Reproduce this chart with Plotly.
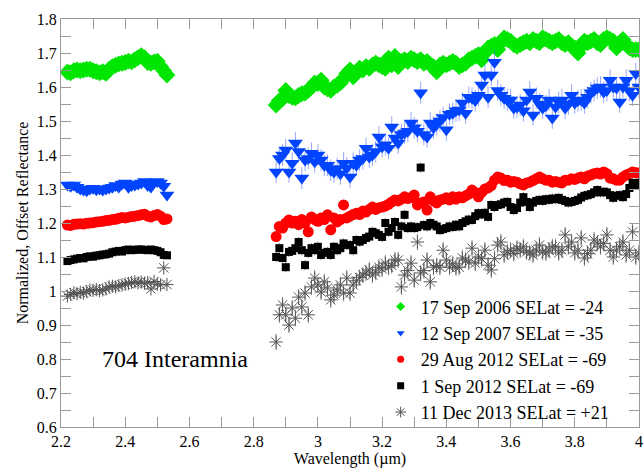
import plotly.graph_objects as go

# Wavelength grids (micron) for the two spectral segments
wl_left = [round(2.22 + 0.01 * i, 2) for i in range(32)]
wl_right = [round(2.87 + 0.01 * i, 2) for i in range(114)]

x_ticks = [2.2, 2.4, 2.6, 2.8, 3.0, 3.2, 3.4, 3.6, 3.8, 4.0]
x_ticklabels = ["2.2", "2.4", "2.6", "2.8", "3", "3.2", "3.4", "3.6", "3.8", "4"]

labels = ["17 Sep 2006 SELat = -24", "12 Sep 2007 SELat = -35",
          "29 Aug 2012 SELat = -69", "1 Sep 2012 SELat = -69",
          "11 Dec 2013 SELat = +21"]

green_left = [1.644, 1.642, 1.648, 1.65, 1.648, 1.65, 1.652, 1.652, 1.648, 1.645,
              1.642, 1.645, 1.64, 1.652, 1.66, 1.664, 1.668, 1.67, 1.672, 1.676,
              1.674, 1.68, 1.686, 1.692, 1.686, 1.672, 1.67, 1.674, 1.676, 1.66,
              1.648, 1.635]
green_right = [1.547, 1.56, 1.565, 1.59, 1.575, 1.57, 1.568, 1.575, 1.58, 1.582,
               1.59, 1.60, 1.612, 1.61, 1.62, 1.60, 1.595, 1.59, 1.60, 1.605,
               1.612, 1.625, 1.64, 1.65, 1.63, 1.645, 1.655, 1.65, 1.66, 1.655,
               1.665, 1.67, 1.665, 1.66, 1.655, 1.685, 1.665, 1.69, 1.66, 1.675,
               1.68, 1.675, 1.685, 1.68, 1.675, 1.68, 1.67, 1.675, 1.665, 1.66,
               1.645, 1.665, 1.67, 1.665, 1.67, 1.675, 1.67, 1.66, 1.665, 1.67,
               1.68, 1.685, 1.69, 1.695, 1.68, 1.70, 1.715, 1.72, 1.725, 1.71,
               1.73, 1.744, 1.74, 1.735, 1.725, 1.72, 1.725, 1.73, 1.735, 1.73,
               1.74, 1.735, 1.73, 1.745, 1.74, 1.735, 1.73, 1.735, 1.74, 1.73,
               1.725, 1.73, 1.72, 1.715, 1.70, 1.72, 1.735, 1.73, 1.735, 1.74,
               1.73, 1.725, 1.74, 1.745, 1.74, 1.735, 1.715, 1.73, 1.74, 1.725,
               1.715, 1.71, 1.71, 1.71]

blue_left = [1.312, 1.308, 1.312, 1.305, 1.30, 1.297, 1.295, 1.30, 1.302, 1.298,
             1.30, 1.297, 1.30, 1.303, 1.305, 1.31, 1.306, 1.315, 1.318, 1.305,
             1.31, 1.312, 1.315, 1.318, 1.322, 1.31, 1.306, 1.32, 1.322, 1.318,
             1.308, 1.282]
blue_right = [1.35, 1.39, 1.40, 1.415, 1.35, 1.376, 1.435, 1.41, 1.332, 1.385,
              1.39, 1.405, 1.38, 1.40, 1.385, 1.37, 1.37, 1.355, 1.35, 1.36,
              1.345, 1.376, 1.362, 1.335, 1.376, 1.37, 1.385, 1.39, 1.42, 1.394,
              1.40, 1.41, 1.453, 1.424, 1.43, 1.42, 1.482, 1.45, 1.435, 1.46,
              1.465, 1.47, 1.494, 1.48, 1.47, 1.583, 1.46, 1.453, 1.494, 1.48,
              1.49, 1.50, 1.51, 1.474, 1.52, 1.523, 1.53, 1.532, 1.553, 1.523,
              1.57, 1.567, 1.56, 1.576, 1.606, 1.635, 1.57, 1.635, 1.673, 1.59,
              1.576, 1.567, 1.562, 1.562, 1.538, 1.541, 1.547, 1.53, 1.562, 1.585,
              1.518, 1.567, 1.55, 1.538, 1.545, 1.562, 1.509, 1.541, 1.555, 1.562,
              1.538, 1.55, 1.576, 1.553, 1.56, 1.562, 1.553, 1.57, 1.583, 1.59,
              1.597, 1.60, 1.585, 1.59, 1.62, 1.60, 1.597, 1.556, 1.60, 1.62,
              1.59, 1.576, 1.64, 1.60]

red_left = [1.194, 1.193, 1.196, 1.197, 1.198, 1.197, 1.199, 1.20, 1.201, 1.203,
            1.204, 1.205, 1.207, 1.208, 1.21, 1.211, 1.214, 1.216, 1.215, 1.217,
            1.219, 1.22, 1.222, 1.224, 1.226, 1.22, 1.218, 1.222, 1.225, 1.22,
            1.21, 1.212]
red_right = [1.16, 1.19, 1.185, 1.20, 1.209, 1.20, 1.205, 1.195, 1.21, 1.20,
             1.174, 1.218, 1.21, 1.205, 1.215, 1.21, 1.224, 1.18, 1.215, 1.203,
             1.21, 1.253, 1.215, 1.22, 1.225, 1.229, 1.225, 1.235, 1.232, 1.24,
             1.247, 1.24, 1.245, 1.247, 1.25, 1.255, 1.262, 1.268, 1.265, 1.27,
             1.277, 1.272, 1.275, 1.282, 1.253, 1.259, 1.262, 1.238, 1.277, 1.265,
             1.259, 1.268, 1.27, 1.274, 1.268, 1.277, 1.27, 1.277, 1.274, 1.28,
             1.285, 1.297, 1.29, 1.277, 1.29, 1.30, 1.303, 1.31, 1.326, 1.335,
             1.332, 1.325, 1.326, 1.32, 1.322, 1.32, 1.315, 1.312, 1.318, 1.32,
             1.325, 1.33, 1.335, 1.33, 1.326, 1.326, 1.32, 1.322, 1.32, 1.318,
             1.326, 1.326, 1.33, 1.328, 1.332, 1.335, 1.33, 1.338, 1.341, 1.345,
             1.347, 1.344, 1.35, 1.345, 1.332, 1.33, 1.326, 1.326, 1.335, 1.341,
             1.345, 1.35, 1.348, 1.347]

black_left = [1.088, 1.091, 1.093, 1.095, 1.097, 1.096, 1.10, 1.102, 1.101, 1.104,
              1.105, 1.107, 1.108, 1.11, 1.114, 1.116, 1.118, 1.116, 1.12, 1.122,
              1.12, 1.121, 1.122, 1.122, 1.121, 1.12, 1.122, 1.12, 1.118, 1.114,
              1.106, 1.105]
black_right = [1.10, 1.126, 1.097, 1.07, 1.115, 1.118, 1.126, 1.144, 1.12, 1.076,
               1.112, 1.126, 1.12, 1.13, 1.106, 1.112, 1.115, 1.106, 1.13, 1.12,
               1.126, 1.14, 1.135, 1.135, 1.12, 1.15, 1.145, 1.15, 1.156, 1.16,
               1.174, 1.17, 1.165, 1.159, 1.20, 1.174, 1.185, 1.203, 1.165, 1.19,
               1.224, 1.185, 1.19, 1.185, 1.188, 1.363, 1.194, 1.19, 1.20, 1.195,
               1.19, 1.179, 1.182, 1.185, 1.19, 1.188, 1.195, 1.19, 1.20, 1.205,
               1.21, 1.209, 1.22, 1.229, 1.225, 1.23, 1.218, 1.253, 1.247, 1.253,
               1.255, 1.26, 1.262, 1.247, 1.238, 1.244, 1.26, 1.276, 1.262, 1.247,
               1.26, 1.265, 1.268, 1.265, 1.27, 1.268, 1.272, 1.27, 1.274, 1.268,
               1.265, 1.26, 1.262, 1.265, 1.268, 1.275, 1.28, 1.282, 1.285, 1.29,
               1.297, 1.29, 1.292, 1.29, 1.282, 1.274, 1.28, 1.282, 1.276, 1.285,
               1.303, 1.318, 1.312, 1.318]

gray_left = [0.985, 0.99, 0.995, 0.992, 0.996, 0.994, 0.998, 1.003, 1.002, 1.004,
             1.001, 1.003, 1.006, 1.012, 1.014, 1.012, 1.016, 1.018, 1.02, 1.022,
             1.025, 1.027, 1.024, 1.026, 1.023, 1.025, 1.006, 1.028, 1.02, 1.018,
             1.068, 1.019]
gray_right = [0.85, 0.93, 0.959, 0.93, 0.90, 0.95, 0.92, 0.982, 0.953, 0.994,
              0.93, 1.012, 1.038, 1.018, 0.997, 1.027, 1.009, 0.974, 0.988, 1.003,
              1.018, 0.994, 1.038, 0.994, 1.018, 1.03, 1.04, 1.047, 1.053, 1.062,
              1.047, 1.055, 1.07, 1.065, 1.082, 1.07, 1.075, 1.091, 1.091, 1.012,
              1.047, 1.06, 1.082, 1.032, 1.144, 1.053, 1.06, 1.091, 1.027, 1.07,
              1.075, 1.07, 1.12, 1.091, 1.07, 1.08, 1.068, 1.07, 1.097, 1.091,
              1.085, 1.126, 1.082, 1.10, 1.095, 1.12, 1.076, 1.062, 1.095, 1.135,
              1.144, 1.106, 1.115, 1.12, 1.11, 1.126, 1.12, 1.13, 1.115, 1.112,
              1.106, 1.12, 1.135, 1.115, 1.112, 1.12, 1.13, 1.13, 1.112, 1.12,
              1.165, 1.13, 1.144, 1.112, 1.12, 1.156, 1.097, 1.11, 1.12, 1.15,
              1.141, 1.13, 1.14, 1.165, 1.12, 1.10, 1.12, 1.13, 1.144, 1.106,
              1.12, 1.174, 1.10, 1.112]

# 1-sigma uncertainties (left segment, right segment)
blue_err = (0.006, 0.032)
red_err = (0.003, 0.007)
black_err = (0.004, 0.015)
gray_err = (0.006, 0.024)

FONT = "Liberation Serif"
wl = wl_left + wl_right

series = [
    (labels[0], green_left + green_right, "#00e600", "diamond", 13, None, None),
    (labels[1], blue_left + blue_right, "#0044ff", "triangle-down", 13, blue_err, "rgba(80,110,255,0.6)"),
    (labels[2], red_left + red_right, "#ff0000", "circle", 11, red_err, "rgba(255,110,110,0.6)"),
    (labels[3], black_left + black_right, "#000000", "square", 8, black_err, "rgba(100,100,100,0.75)"),
    (labels[4], gray_left + gray_right, "#555555", "asterisk-open", 11, gray_err, "rgba(120,120,120,0.8)"),
]

fig = go.Figure()
for name, vals, col, sym, size, err, ecol in series:
    line = dict(color=col, width=1) if sym == "asterisk-open" else dict(width=0)
    tr = dict(x=wl, y=vals, mode="markers", name=name, showlegend=False,
              marker=dict(symbol=sym, size=size, color=col, line=line))
    if err is not None:
        earr = [err[0]] * len(wl_left) + [err[1]] * len(wl_right)
        tr["error_y"] = dict(type="data", array=earr, visible=True, color=ecol,
                             thickness=1, width=0)
    fig.add_trace(go.Scatter(**tr))

# legend entries with small symbols
for name, vals, col, sym, size, err, ecol in series:
    line = dict(color=col, width=1) if sym == "asterisk-open" else dict(width=0)
    lsize = 9 if sym == "asterisk-open" else 7
    fig.add_trace(go.Scatter(x=[None], y=[None], mode="markers", name=name,
                             marker=dict(symbol=sym, size=lsize, color=col, line=line)))

fig.add_annotation(x=2.32, y=0.80, xref="x", yref="y", text="704 Interamnia",
                   showarrow=False, xanchor="left", yanchor="middle",
                   font=dict(family=FONT, size=24, color="black"))

axis_common = dict(showline=True, linecolor="#9a9a9a", linewidth=1, mirror="ticks",
                   ticks="inside", tickcolor="#9a9a9a", ticklen=10, tickwidth=1,
                   showgrid=False, zeroline=False, ticklabeloverflow="allow",
                   tickfont=dict(family=FONT, size=16, color="black"))

fig.update_xaxes(range=[2.2, 4.0], tickvals=x_ticks, ticktext=x_ticklabels,
                 minor=dict(dtick=0.1, tick0=2.2, ticks="inside", ticklen=10, tickcolor="#9a9a9a"),
                 title=dict(text="Wavelength (\u00b5m)", standoff=2,
                            font=dict(family=FONT, size=16, color="black")),
                 **axis_common)
fig.update_yaxes(range=[0.6, 1.8], dtick=0.1, tick0=0.6,
                 minor=dict(dtick=0.05, ticks="inside", ticklen=10, tickcolor="#9a9a9a"),
                 title=dict(text="Normalized, Offset Reflectance", standoff=4,
                            font=dict(family=FONT, size=16, color="black")),
                 **axis_common)

fig.update_layout(
    width=644, height=468,
    margin=dict(l=61, r=1, t=19, b=41),
    paper_bgcolor="white", plot_bgcolor="white",
    font=dict(family=FONT, size=16, color="black"),
    legend=dict(x=0.553, y=0.34, xanchor="left", yanchor="top",
                bgcolor="rgba(0,0,0,0)", font=dict(family=FONT, size=18, color="black"),
                itemsizing="trace", tracegroupgap=0),
)

fig.write_html("out.html")
